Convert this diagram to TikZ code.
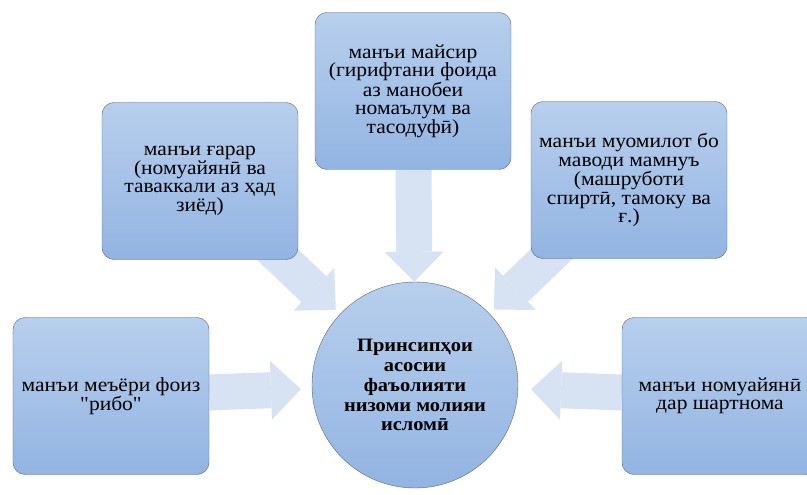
\documentclass[tikz,border=0pt]{standalone}
\usepackage{fontspec}
\setmainfont{Liberation Serif}
\newfontfamily\boxfont{Liberation Serif}[FakeStretch=1.08]
\usepackage{tikz}
\usetikzlibrary{arrows.meta}
\usetikzlibrary{backgrounds}

\definecolor{boxtop}{RGB}{184,207,237}
\definecolor{boxbottom}{RGB}{146,180,226}
\definecolor{boxline}{RGB}{88,102,126}
\definecolor{arrowfill}{RGB}{215,226,242}

\begin{document}
\begin{tikzpicture}[x=1bp,y=-1bp]
\useasboundingbox (0,0) rectangle (807,495);
\clip (0,0) rectangle (807,495);
\begin{scope}[every node/.style={draw=boxline,top color=boxtop,bottom color=boxbottom,
                                 align=center,inner sep=0pt},
              topicbox/.style={rectangle,rounded corners=12bp,minimum width=196bp,
                               minimum height=157bp,font=\boxfont\fontsize{20}{18.5}\selectfont}]
    \node[topicbox] (riba) at (111,396) {манъи меъёри фоиз\\"рибо"};
    \node[topicbox] (gharar) at (200,181) {манъи ғарар\\(номуайянӣ ва\\таваккали аз ҳад\\зиёд)};
    \node[topicbox] (maysir) at (413,91) {манъи майсир\\(гирифтани фоида\\аз манобеи\\номаълум ва\\тасодуфӣ)};
    \node[topicbox] (mamnu) at (629,180) {манъи муомилот бо\\маводи мамнуъ\\(машруботи\\спиртӣ, тамоку ва\\ғ.)};
    \node[topicbox] (shartnoma) at (720,396) {манъи номуайянӣ\\дар шартнома};
    \node[circle,minimum size=206bp,font=\boxfont\bfseries\fontsize{19}{20}\selectfont] (core) at (415,385)
        {Принсипҳои\\асосии\\фаъолияти\\низоми молияи\\исломӣ};
\end{scope}
\begin{scope}[on background layer,
              block/.style={draw=arrowfill,line width=36bp,
                            -{Triangle[length=30bp,width=59bp,line width=0pt]}}]
    \path (riba) edge [block,shorten >=11bp] (core);
    \path (shartnoma) edge [block,shorten >=13bp] (core);
    \path (maysir) edge [block] (core);
    \path (gharar.center) edge [block,shorten >=6bp] (core);
    \path (mamnu.center) edge [block,shorten >=6bp] (core);
\end{scope}
\end{tikzpicture}
\end{document}
